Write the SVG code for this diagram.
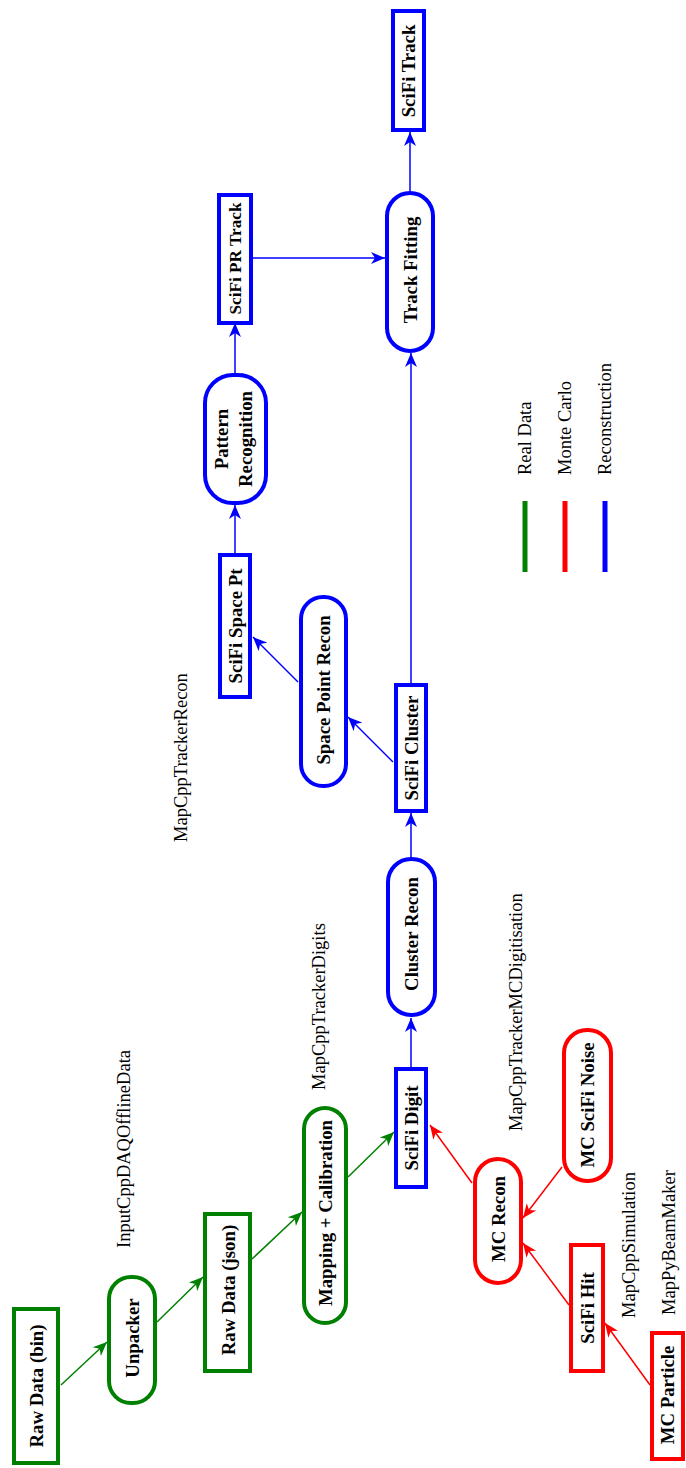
<svg xmlns="http://www.w3.org/2000/svg" width="686" height="1468" viewBox="0 0 686 1468">
<style>
.n{fill:#fff;stroke-width:4}
.g{stroke:#008000}
.r{stroke:#ff0000}
.b{stroke:#0000ff}
.t{font-family:"Liberation Serif","Times New Roman",serif;font-weight:bold;font-size:18.8px;fill:#000;text-anchor:middle}
.l{font-family:"Liberation Serif","Times New Roman",serif;font-size:18.5px;fill:#000}
.e{fill:none;stroke-width:1.5}
</style>
<defs>
<marker id="ag" markerUnits="userSpaceOnUse" markerWidth="16" markerHeight="14" refX="14" refY="7" orient="auto"><path d="M0,1 L14,7 L0,13 L4,7 z" fill="#008000"/></marker>
<marker id="ar" markerUnits="userSpaceOnUse" markerWidth="16" markerHeight="14" refX="14" refY="7" orient="auto"><path d="M0,1 L14,7 L0,13 L4,7 z" fill="#ff0000"/></marker>
<marker id="ab" markerUnits="userSpaceOnUse" markerWidth="16" markerHeight="14" refX="14" refY="7" orient="auto"><path d="M0,1 L14,7 L0,13 L4,7 z" fill="#0000ff"/></marker>
</defs>
<rect width="686" height="1468" fill="#fff"/>
<g id="connectors">
<line class="e g" x1="61" y1="1385" x2="107" y2="1342" marker-end="url(#ag)"/>
<line class="e g" x1="157" y1="1322" x2="203" y2="1277" marker-end="url(#ag)"/>
<line class="e g" x1="252" y1="1259" x2="302" y2="1212" marker-end="url(#ag)"/>
<line class="e g" x1="348" y1="1177" x2="394" y2="1132" marker-end="url(#ag)"/>
<line class="e r" x1="472" y1="1183" x2="430" y2="1125" marker-end="url(#ar)"/>
<line class="e r" x1="562" y1="1167" x2="523" y2="1218" marker-end="url(#ar)"/>
<line class="e r" x1="569" y1="1305" x2="523" y2="1243" marker-end="url(#ar)"/>
<line class="e r" x1="650" y1="1385" x2="605" y2="1323" marker-end="url(#ar)"/>
<line class="e b" x1="411" y1="1067" x2="411" y2="1018" marker-end="url(#ab)"/>
<line class="e b" x1="411" y1="857" x2="411" y2="813" marker-end="url(#ab)"/>
<line class="e b" x1="393" y1="762" x2="348" y2="717" marker-end="url(#ab)"/>
<line class="e b" x1="298" y1="682" x2="253" y2="637" marker-end="url(#ab)"/>
<line class="e b" x1="235" y1="553" x2="235" y2="505" marker-end="url(#ab)"/>
<line class="e b" x1="235" y1="373" x2="235" y2="323" marker-end="url(#ab)"/>
<line class="e b" x1="253" y1="258" x2="385" y2="258" marker-end="url(#ab)"/>
<line class="e b" x1="411" y1="683" x2="411" y2="353" marker-end="url(#ab)"/>
<line class="e b" x1="410" y1="191" x2="410" y2="132" marker-end="url(#ab)"/>
</g>
<g id="rawbin"><rect class="n g" x="14" y="1309" width="44" height="154"/><text class="t" transform="translate(36,1386) rotate(-90)" dy="0.35em">Raw Data (bin)</text></g>
<g id="unpacker"><rect class="n g" x="109" y="1277" width="46" height="126" rx="22"/><text class="t" transform="translate(132,1338) rotate(-90)" dy="0.35em">Unpacker</text></g>
<g id="rawjson"><rect class="n g" x="205" y="1214" width="45" height="157"/><text class="t" transform="translate(228,1290) rotate(-90)" dy="0.35em">Raw Data (json)</text></g>
<g id="mapping"><rect class="n g" x="304" y="1108" width="42" height="215" rx="21"/><text class="t" transform="translate(325,1213) rotate(-90)" dy="0.35em">Mapping + Calibration</text></g>
<g id="digit"><rect class="n b" x="396" y="1069" width="30" height="118"/><text class="t" transform="translate(411,1128) rotate(-90)" dy="0.35em">SciFi Digit</text></g>
<g id="mcrecon"><rect class="n r" x="475" y="1159" width="46" height="124" rx="23"/><text class="t" transform="translate(498,1219) rotate(-90)" dy="0.35em">MC Recon</text></g>
<g id="noise"><rect class="n r" x="564" y="1030" width="47" height="151" rx="23"/><text class="t" transform="translate(587,1105) rotate(-90)" dy="0.35em">MC SciFi Noise</text></g>
<g id="scifihit"><rect class="n r" x="571" y="1245" width="32" height="126"/><text class="t" transform="translate(587,1308) rotate(-90)" dy="0.35em">SciFi Hit</text></g>
<g id="mcparticle"><rect class="n r" x="652" y="1333" width="31" height="126"/><text class="t" transform="translate(667,1395) rotate(-90)" dy="0.35em">MC Particle</text></g>
<g id="clusterrecon"><rect class="n b" x="388" y="859" width="47" height="156" rx="23"/><text class="t" transform="translate(411,934) rotate(-90)" dy="0.35em">Cluster Recon</text></g>
<g id="cluster"><rect class="n b" x="396" y="685" width="30" height="126"/><text class="t" transform="translate(411,748) rotate(-90)" dy="0.35em">SciFi Cluster</text></g>
<g id="sprecon"><rect class="n b" x="301" y="597" width="45" height="189" rx="22"/><text class="t" transform="translate(323.5,690) rotate(-90)" dy="0.35em">Space Point Recon</text></g>
<g id="spacept"><rect class="n b" x="220" y="555" width="30" height="142"/><text class="t" transform="translate(235,626) rotate(-90)" dy="0.35em">SciFi Space Pt</text></g>
<g id="patrec"><rect class="n b" x="205" y="375" width="61" height="128" rx="28"/><text class="t" transform="translate(221,439) rotate(-90)" dy="0.35em">Pattern</text><text class="t" transform="translate(245,439) rotate(-90)" dy="0.35em">Recognition</text></g>
<g id="prtrack"><rect class="n b" x="219" y="195" width="32" height="128"/><text class="t" style="font-size:17.2px" transform="translate(235,258.5) rotate(-90)" dy="0.35em">SciFi PR Track</text></g>
<g id="trackfit"><rect class="n b" x="387" y="193" width="46" height="158" rx="23"/><text class="t" transform="translate(410,270) rotate(-90)" dy="0.35em">Track Fitting</text></g>
<g id="scifitrack"><rect class="n b" x="393" y="11" width="31" height="119"/><text class="t" transform="translate(408.5,71) rotate(-90)" dy="0.35em">SciFi Track</text></g>
<g id="labels">
<text class="l" transform="translate(130,1248) rotate(-90)">InputCppDAQOfflineData</text>
<text class="l" transform="translate(325,1090) rotate(-90)">MapCppTrackerDigits</text>
<text class="l" transform="translate(187,842) rotate(-90)">MapCppTrackerRecon</text>
<text class="l" transform="translate(522,1131) rotate(-90)">MapCppTrackerMCDigitisation</text>
<text class="l" transform="translate(635,1318) rotate(-90)">MapCppSimulation</text>
<text class="l" transform="translate(675,1315) rotate(-90)">MapPyBeamMaker</text>
</g>
<g id="legend">
<text class="l" transform="translate(531,475) rotate(-90)">Real Data</text>
<text class="l" transform="translate(571,475) rotate(-90)">Monte Carlo</text>
<text class="l" transform="translate(611,475) rotate(-90)">Reconstruction</text>
<line x1="525" y1="501" x2="525" y2="572" stroke="#008000" stroke-width="5"/>
<line x1="565" y1="501" x2="565" y2="572" stroke="#ff0000" stroke-width="5"/>
<line x1="605" y1="501" x2="605" y2="572" stroke="#0000ff" stroke-width="5"/>
</g>
</svg>
